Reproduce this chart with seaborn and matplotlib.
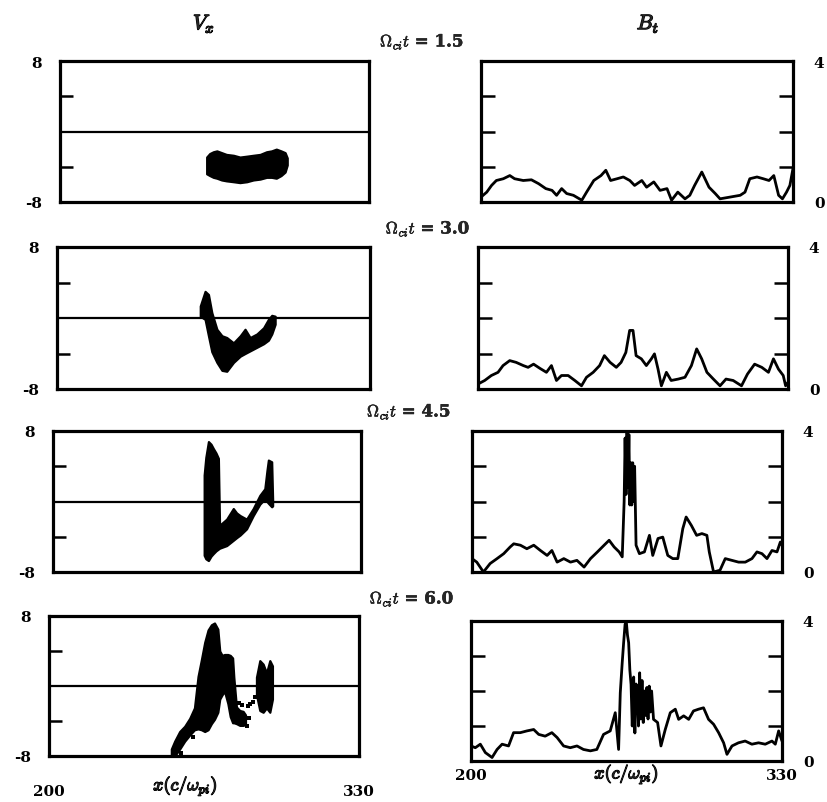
import matplotlib
matplotlib.use("Agg")
import matplotlib.pyplot as plt
import matplotlib.patheffects as pe
from matplotlib.ticker import FixedLocator
import seaborn as sns

# ---------------- data ----------------
times = ["1.5", "3.0", "4.5", "6.0"]
x_limits = [200, 330]
vx_limits = [-8, 8]
bt_limits = [0, 4]
x_ticklabels = ["200", "330"]
vx_ticklabels = ["-8", "8"]
bt_ticklabels = ["0", "4"]

# Transverse magnetic field B_t along x for each time
bt1_x = [200, 202.4, 204.4, 206.4, 209.3, 212, 214, 217.6, 221, 224, 227, 229.6, 231.5, 233.6,
         235.7, 238.5, 242, 244, 247, 250, 252, 254, 256.7, 259.3, 262, 264, 267, 269, 272, 274.6,
         277.5, 279.4, 282, 285, 287, 289, 292, 295, 297.6, 299.6, 303.8, 308, 310, 312, 315,
         317.6, 320, 322, 324, 325.6, 327.3, 328.7, 330]
bt1_y = [0.14, 0.28, 0.47, 0.61, 0.66, 0.75, 0.66, 0.61, 0.63, 0.52, 0.38, 0.33, 0.19, 0.38,
         0.24, 0.19, 0.05, 0.28, 0.61, 0.75, 0.9, 0.61, 0.66, 0.71, 0.61, 0.47, 0.61, 0.42, 0.57, 0.33,
         0.38, 0.05, 0.28, 0.09, 0.19, 0.47, 0.85, 0.42, 0.24, 0.09, 0.14, 0.19, 0.28, 0.66, 0.71,
         0.66, 0.61, 0.75, 0.19, 0.09, 0.28, 0.47, 0.95]

bt2_x = [200, 202.8, 205.6, 208.4, 210.5, 213.3, 216, 219, 221, 223.3, 226, 228.7, 230.8, 232.9,
         235, 237.8, 240.6, 243.4, 245.5, 248.3, 251, 253, 255.4, 258, 260, 262, 263.6, 265, 266.3,
         268.5, 270.6, 272.7, 274, 275.5, 276.9, 279, 281, 284, 286.8, 289.5, 291.7, 293.8, 296,
         298.7, 301.5, 304, 307, 310.5, 313, 316, 319, 321.8, 323.9, 326, 328, 329, 330]
bt2_y = [0.14, 0.24, 0.38, 0.47, 0.66, 0.8, 0.75, 0.66, 0.61, 0.7, 0.58, 0.47, 0.66, 0.24,
         0.38, 0.38, 0.24, 0.09, 0.33, 0.47, 0.66, 0.94, 0.75, 0.61, 0.75, 1.03, 1.65, 1.65, 0.94,
         0.85, 0.66, 0.85, 0.99, 0.56, 0.09, 0.47, 0.24, 0.28, 0.33, 0.66, 1.13, 0.85, 0.47,
         0.28, 0.09, 0.28, 0.24, 0.09, 0.42, 0.7, 0.61, 0.47, 0.85, 0.56, 0.38, 0.09, 0.19]

bt3_x = [200, 202, 204.8, 207.6, 210.5, 213.3, 216, 217.5, 220.3, 223, 225.9, 228.7, 231.5, 233.5,
         235.7, 238.5, 241.3, 244, 247, 249.7, 252.6, 255.4, 257.5, 259.6, 261.7, 263, 263.8, 264.2,
         264.6, 265.0, 265.4, 265.8, 266.2, 266.6, 267.0, 267.4, 267.8, 268.2, 268.8, 270.2, 272.3,
         274.4, 275.8, 278, 280, 282.1, 284.2, 286.3, 288.4, 289.8, 292, 294.2, 296.4, 298.5, 299.5,
         301.3, 304, 306.2, 309, 311.8, 314.6, 317.4, 319.5, 321.6, 323.7, 325.8, 327.9, 329.3, 330]
bt3_y = [0.38, 0.28, 0.0, 0.24, 0.38, 0.52, 0.71, 0.8, 0.76, 0.66, 0.76, 0.61, 0.47, 0.61,
         0.28, 0.38, 0.28, 0.33, 0.14, 0.38, 0.57, 0.76, 0.9, 0.71, 0.57, 0.43, 2.0, 3.8,
         2.2, 4.0, 2.4, 3.9, 1.9, 3.1, 1.9, 3.1, 2.0, 3.0, 0.76, 0.52, 0.57,
         1.04, 0.47, 0.95, 0.99, 0.47, 0.38, 0.38, 1.23, 1.56, 1.32, 1.04, 1.09, 1.04, 0.57,
         0.0, 0.05, 0.38, 0.33, 0.28, 0.28, 0.38, 0.57, 0.52, 0.38, 0.61, 0.57, 0.85, 0.76]

bt4_x = [200, 201.8, 203.9, 206, 208.8, 210.9, 213, 215.7, 217.8, 220.6, 223.4, 226.2, 228.3, 231,
         233.8, 236, 238.7, 241.5, 244.3, 247, 249.9, 252.6, 255.4, 258.2, 260.3, 261.7, 262.4,
         263.2, 263.8, 264.4, 264.9, 265.4, 265.9, 266.4, 266.9, 267.4, 268.0, 268.5, 269.0, 269.5,
         270.0, 270.5, 271.0, 271.5, 272.0, 272.5, 273.0, 273.5, 274.0, 274.5, 275.0, 275.5, 276.3,
         278, 279.4, 281.2, 283.3, 285.4, 286.8, 288.9, 291, 293, 295.1, 297.2, 299.3, 301.4,
         303.5, 305.6, 307, 309.1, 311.8, 314.6, 317.4, 320.2, 323, 325.8, 327.2, 328.6, 330]
bt4_y = [0.43, 0.38, 0.48, 0.24, 0.1, 0.33, 0.48, 0.43, 0.81, 0.81, 0.86, 0.9, 0.76, 0.71,
         0.81, 0.67, 0.43, 0.38, 0.43, 0.33, 0.29, 0.33, 0.76, 0.86, 1.38, 0.33, 1.95,
         2.8, 3.38, 3.9, 4.0, 3.6, 3.38, 2.6, 2.19, 1.0, 2.4, 0.8, 2.2, 2.1,
         1.0, 2.52, 1.2, 2.3, 1.1, 2.0, 1.3, 2.1, 1.2, 2.14, 1.4, 2.0, 1.19,
         1.1, 0.43, 0.9, 1.38, 1.48, 1.19, 1.29, 1.19, 1.43, 1.48, 1.52, 1.19, 1.05,
         0.81, 0.52, 0.19, 0.43, 0.52, 0.57, 0.48, 0.52, 0.48, 0.57, 0.48, 0.86, 0.57]

# Ion phase space V_x(x): upper / lower edges of the particle populations
vx1_x = [261.7, 263, 264.5, 266, 268, 270, 273, 275.7, 278.6, 281.3, 284.2, 286.9, 289, 291, 293, 294.7, 295.6]
vx1_hi = [-2.9, -2.5, -2.3, -2.2, -2.4, -2.6, -2.7, -2.9, -2.8, -2.7, -2.6, -2.3, -2.2, -2.0, -2.2, -2.4, -3.0]
vx1_lo = [-4.8, -5.0, -5.2, -5.3, -5.5, -5.6, -5.7, -5.8, -5.7, -5.5, -5.4, -5.2, -5.2, -5.3, -5.0, -4.6, -3.8]

vx2_x = [259.5, 261.5, 262.9, 264.3, 266.4, 268.5, 270.5, 273.3, 276.1, 278.1, 280.2, 283, 285.8, 287.8, 289.2, 290.6]
vx2_hi = [1.35, 3.0, 2.65, 0.6, -1.27, -2.0, -2.2, -2.8, -2.0, -1.27, -2.2, -1.8, -1.1, -0.15, 0.3, 0.2]
vx2_lo = [0.2, -0.15, -2.0, -3.8, -5.0, -5.9, -6.0, -5.0, -4.3, -4.0, -3.7, -3.3, -2.9, -2.5, -1.8, -0.7]

vx3_x = [263.8, 264.5, 265.6, 266.7, 267.7, 268.8, 269.8, 270.3, 273.3, 276.1, 277.5, 279, 281.7,
         284.5, 287.3, 289.4, 290.3, 290.9, 292.3, 292.7]
vx3_hi = [3.0, 5.0, 6.8, 6.5, 6.0, 5.5, 4.9, -2.7, -2.0, -0.8, -1.3, -1.6, -2.0, -0.8, 0.7, 1.45, 3.5, 4.7, 4.5, 0.2]
vx3_lo = [-6.1, -6.5, -6.7, -6.2, -5.9, -5.6, -5.4, -5.3, -5.0, -4.4, -4.1, -3.8, -3.1, -1.6, -0.3, 0.3, 0.0, -0.2, -0.6, -0.5]

vx4_x = [251.3, 252.7, 254.8, 256.9, 259, 261, 262.5, 263.9, 265.3, 266.7, 268.1, 269.4, 270.8,
         271.6, 272.6, 273.6, 275, 276, 277, 277.5, 278.6, 280, 281.4, 282.4]
vx4_hi = [-7.2, -6.3, -5.2, -4.6, -3.7, -2.5, 1.1, 3.0, 5.0, 6.4, 7.0, 7.2, 6.5,
          4.0, 3.5, 3.6, 3.6, 3.5, 3.2, 1.0, -2.4, -2.8, -2.9, -3.3]
vx4_lo = [-8.0, -8.0, -7.2, -6.3, -5.6, -5.0, -4.9, -5.0, -5.2, -5.0, -4.3, -3.8, -3.0,
          -1.5, -1.0, -0.6, -2.0, -3.5, -4.2, -4.2, -4.3, -4.5, -4.5, -4.4]
vx4b_x = [287.0, 288.4, 289.8, 291.2, 292.6, 293.7]
vx4b_hi = [1.0, 2.9, 2.5, 1.5, 2.9, 2.3]
vx4b_lo = [-1.0, -2.8, -3.0, -2.5, -3.0, -1.5]
# isolated particles at t = 6.0
vx4_pts_x = [283.5, 284.5, 285.5, 286.2, 284.0, 282.9, 260.5, 255.2, 253.0, 279.5, 281.0]
vx4_pts_y = [-2.3, -2.0, -1.8, -1.2, -3.6, -4.6, -5.8, -7.6, -8.0, -1.9, -2.2]

vx_blobs = [
    [(vx1_x, vx1_lo, vx1_hi)],
    [(vx2_x, vx2_lo, vx2_hi)],
    [(vx3_x, vx3_lo, vx3_hi)],
    [(vx4_x, vx4_lo, vx4_hi), (vx4b_x, vx4b_lo, vx4b_hi)],
]
bt_series = [(bt1_x, bt1_y), (bt2_x, bt2_y), (bt3_x, bt3_y), (bt4_x, bt4_y)]

# ---------------- style ----------------
sns.set_theme(style="white")
plt.rcParams.update({
    "font.family": ["DejaVu Serif"],
    "mathtext.fontset": "cm",
    "axes.edgecolor": "black",
    "axes.linewidth": 2.3,
    "xtick.color": "black",
    "ytick.color": "black",
})

W, H = 827, 803
fig = plt.figure(figsize=(W / 100, H / 100), dpi=100)


def box(l, t, r, b):
    return [l / W, 1 - b / H, (r - l) / W, (b - t) / H]


left_boxes = [(60, 62, 369, 203), (57, 248, 370, 390), (53, 432, 361, 573), (49, 617, 359, 757)]
right_boxes = [(481, 62, 793, 203), (478, 248, 788, 390), (472, 432, 782, 573), (471, 622, 782, 762)]
title_pos = [(422, 43), (428, 230), (409, 413), (412, 600)]

bold = [pe.withStroke(linewidth=0.9, foreground="black")]
bold_thin = [pe.withStroke(linewidth=0.35, foreground="black")]
num_font = dict(fontsize=11, fontweight="bold", family="DejaVu Serif")

for i in range(4):
    # ---- V_x phase space ----
    ax = fig.add_axes(box(*left_boxes[i]))
    for bx, lo, hi in vx_blobs[i]:
        ax.fill_between(bx, lo, hi, color="black", edgecolor="black", linewidth=1.6)
    if i == 3:
        sns.scatterplot(x=vx4_pts_x, y=vx4_pts_y, ax=ax, color="black", s=7, marker="s",
                        linewidth=0, legend=False)
    ax.axhline(0, color="black", lw=1.6)
    ax.set_xlim(*x_limits)
    ax.set_ylim(*vx_limits)
    ax.yaxis.set_major_locator(FixedLocator(vx_limits))
    ax.set_yticklabels(vx_ticklabels, **num_font)
    ax.yaxis.set_minor_locator(FixedLocator([-4, 4]))
    ax.tick_params(axis="y", which="major", length=0, pad=13)
    ax.tick_params(axis="y", which="minor", direction="in", length=9, width=1.8, left=True)
    ax.set_xlabel("")
    ax.set_ylabel("")
    if i == 3:
        ax.xaxis.set_major_locator(FixedLocator(x_limits))
        ax.set_xticklabels(x_ticklabels, **num_font)
        ax.tick_params(axis="x", length=0, pad=20)
        ax.text(0.44, -0.215, r"$x(c/\omega_{pi})$", transform=ax.transAxes, ha="center",
                va="center", fontsize=13, path_effects=bold)
    else:
        ax.set_xticks([])

    # ---- B_t ----
    bx_, by_ = bt_series[i]
    axr = fig.add_axes(box(*right_boxes[i]))
    sns.lineplot(x=bx_, y=by_, ax=axr, color="black", linewidth=2.0, estimator=None, sort=False)
    axr.set_xlim(*x_limits)
    axr.set_ylim(*bt_limits)
    axr.yaxis.tick_right()
    axr.yaxis.set_major_locator(FixedLocator(bt_limits))
    axr.set_yticklabels(bt_ticklabels, **num_font)
    axr.yaxis.set_minor_locator(FixedLocator([1, 2, 3]))
    axr.tick_params(axis="y", which="major", length=0, pad=15, right=True, left=False)
    axr.tick_params(axis="y", which="minor", direction="in", length=10, width=1.8,
                    left=True, right=True)
    axr.set_xlabel("")
    axr.set_ylabel("")
    if i == 3:
        axr.xaxis.set_major_locator(FixedLocator(x_limits))
        axr.set_xticklabels(x_ticklabels, **num_font)
        axr.tick_params(axis="x", length=0, pad=5)
        axr.text(0.5, -0.095, r"$x(c/\omega_{pi})$", transform=axr.transAxes, ha="center",
                 va="center", fontsize=13, path_effects=bold)
    else:
        axr.set_xticks([])

    tx, ty = title_pos[i]
    fig.text(tx / W, 1 - ty / H, r"$\Omega_{ci}t$ = " + times[i],
             ha="center", va="center", fontsize=12, fontweight="bold", path_effects=bold_thin)

fig.text(204 / W, 1 - 25 / H, r"$V_x$", ha="center", va="center", fontsize=15, path_effects=bold)
fig.text(648 / W, 1 - 25 / H, r"$B_t$", ha="center", va="center", fontsize=15, path_effects=bold)

fig.savefig("out.png", dpi=100)
